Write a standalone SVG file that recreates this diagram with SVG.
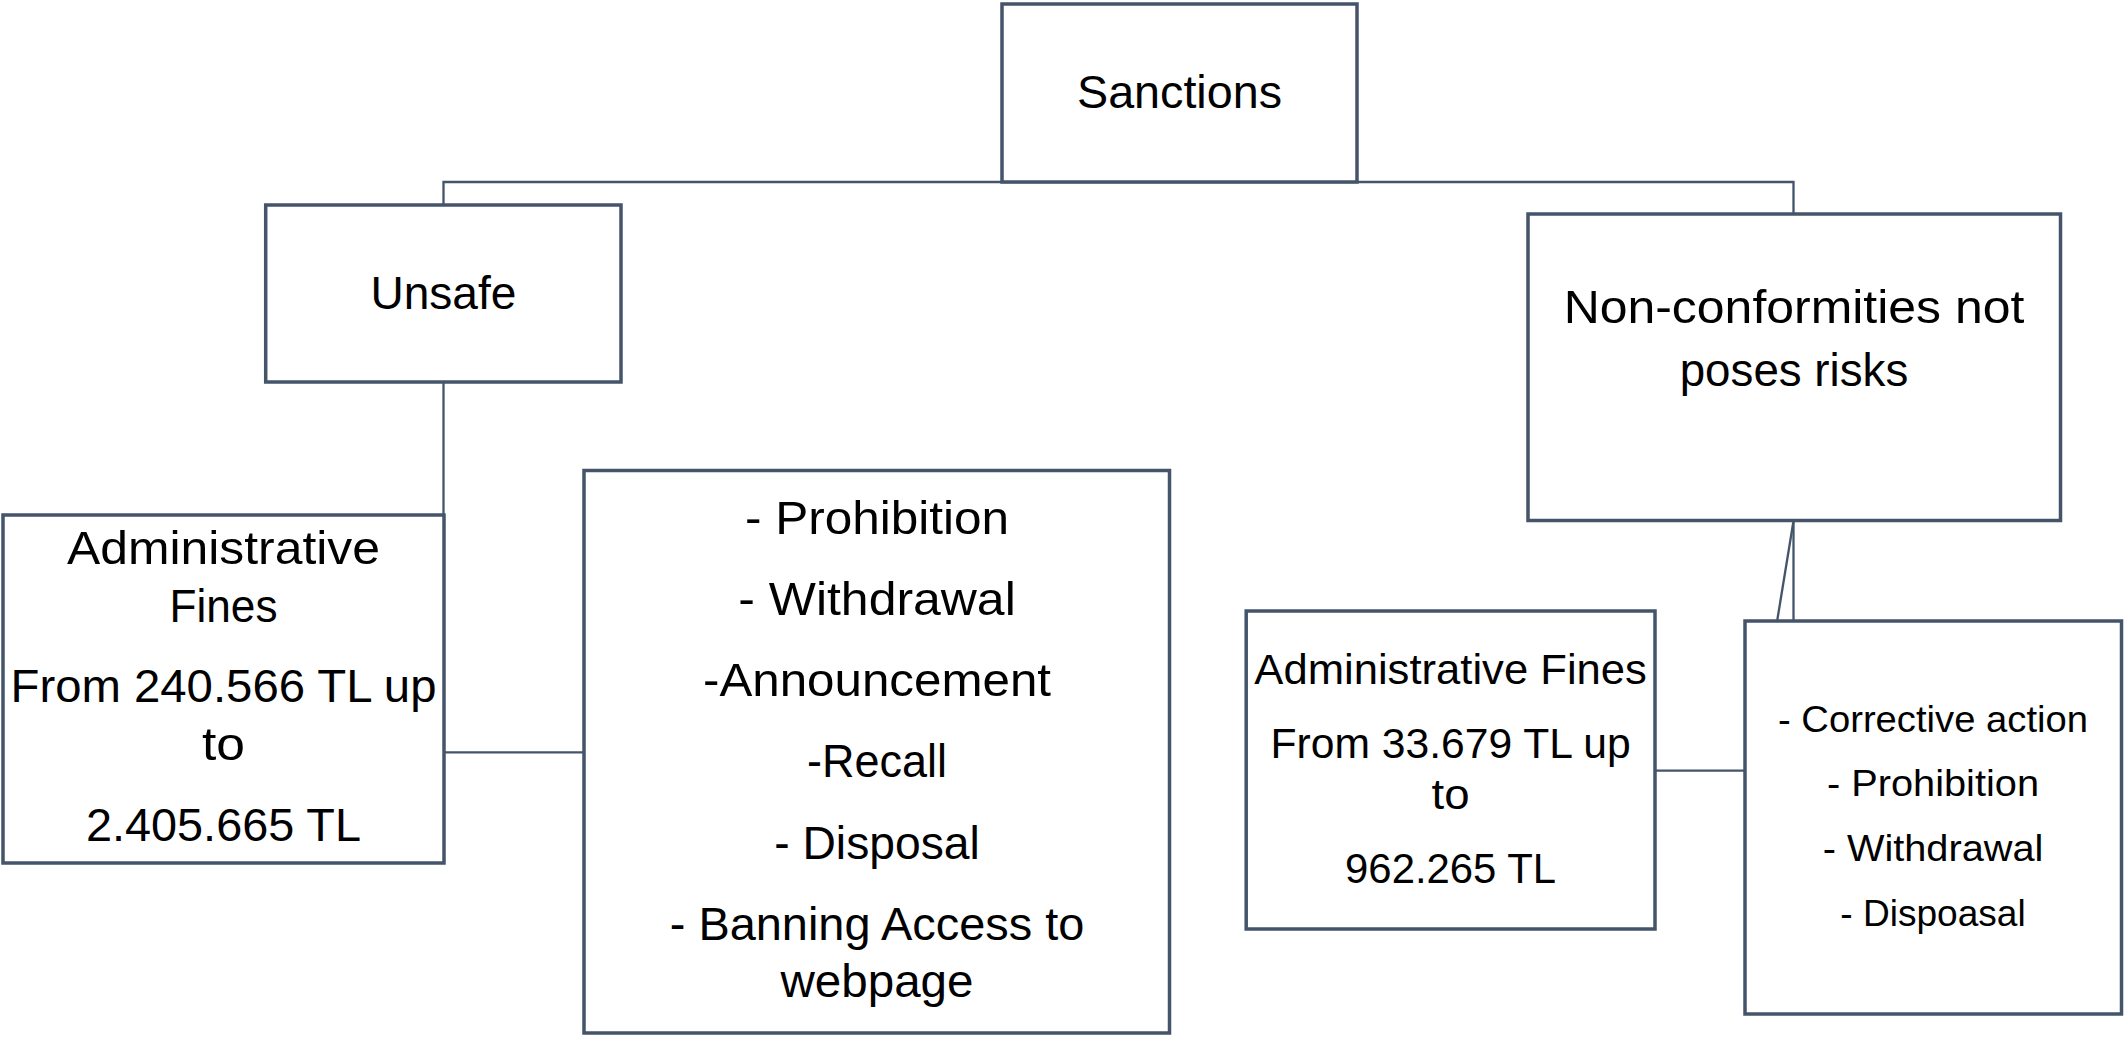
<svg xmlns="http://www.w3.org/2000/svg" width="2124" height="1038" viewBox="0 0 2124 1038">
<style>
.box{fill:#ffffff;stroke:#44546A;stroke-width:3.5}
.con{fill:none;stroke:#44546A;stroke-width:2.3}
text{font-family:"Liberation Sans",Arial,sans-serif;fill:#000000;text-anchor:middle}
.t1{font-size:47px}
.t2{font-size:43px}
.t3{font-size:37.5px}
</style>
<rect width="2124" height="1038" fill="#ffffff"/>
<g id="connectors">
<polyline class="con" points="443.5,205 443.5,182 1793.5,182 1793.5,214"/>
<line class="con" x1="443.5" y1="382" x2="443.5" y2="515"/>
<line class="con" x1="444" y1="752.3" x2="584" y2="752.3"/>
<line class="con" x1="1793.5" y1="520.5" x2="1793.5" y2="621"/>
<line class="con" x1="1793.5" y1="521" x2="1777.3" y2="620"/>
<line class="con" x1="1655" y1="770.7" x2="1745" y2="770.7"/>
</g>
<g id="sanctions">
<rect class="box" x="1002" y="4" width="355" height="178"/>
<text class="t1" x="1179.5" y="108.3" textLength="205" lengthAdjust="spacingAndGlyphs">Sanctions</text>
</g>
<g id="unsafe">
<rect class="box" x="265.7" y="205" width="355.3" height="177"/>
<text class="t1" x="443.4" y="309" textLength="146" lengthAdjust="spacingAndGlyphs">Unsafe</text>
</g>
<g id="admin-fines-unsafe">
<rect class="box" x="3" y="515" width="441" height="348"/>
<text class="t1" x="223.5" y="564" textLength="313" lengthAdjust="spacingAndGlyphs">Administrative</text>
<text class="t1" x="223.5" y="622" textLength="108" lengthAdjust="spacingAndGlyphs">Fines</text>
<text class="t1" x="223.5" y="702" textLength="426" lengthAdjust="spacingAndGlyphs">From 240.566 TL up</text>
<text class="t1" x="223.5" y="760" textLength="43" lengthAdjust="spacingAndGlyphs">to</text>
<text class="t1" x="223.5" y="841" textLength="275" lengthAdjust="spacingAndGlyphs">2.405.665 TL</text>
</g>
<g id="measures-unsafe">
<rect class="box" x="584" y="470.5" width="585.5" height="562.5"/>
<text class="t1" x="877" y="533.7" textLength="264" lengthAdjust="spacingAndGlyphs">- Prohibition</text>
<text class="t1" x="877" y="615" textLength="277.5" lengthAdjust="spacingAndGlyphs">- Withdrawal</text>
<text class="t1" x="877" y="696" textLength="348" lengthAdjust="spacingAndGlyphs">-Announcement</text>
<text class="t1" x="877" y="777.3" textLength="140" lengthAdjust="spacingAndGlyphs">-Recall</text>
<text class="t1" x="877" y="858.5" textLength="205.5" lengthAdjust="spacingAndGlyphs">- Disposal</text>
<text class="t1" x="877" y="939.7" textLength="414.5" lengthAdjust="spacingAndGlyphs">- Banning Access to</text>
<text class="t1" x="877" y="997" textLength="193" lengthAdjust="spacingAndGlyphs">webpage</text>
</g>
<g id="non-conformities">
<rect class="box" x="1528" y="214" width="532.5" height="306.5"/>
<text class="t1" x="1794" y="323" textLength="460.7" lengthAdjust="spacingAndGlyphs">Non-conformities not</text>
<text class="t1" x="1794" y="386" textLength="228.6" lengthAdjust="spacingAndGlyphs">poses risks</text>
</g>
<g id="admin-fines-nc">
<rect class="box" x="1246.2" y="611" width="408.8" height="318"/>
<text class="t2" x="1450.6" y="683.5" textLength="392.6" lengthAdjust="spacingAndGlyphs">Administrative Fines</text>
<text class="t2" x="1450.6" y="757.5" textLength="360" lengthAdjust="spacingAndGlyphs">From 33.679 TL up</text>
<text class="t2" x="1450.6" y="809" textLength="38" lengthAdjust="spacingAndGlyphs">to</text>
<text class="t2" x="1450.6" y="882.5" textLength="211" lengthAdjust="spacingAndGlyphs">962.265 TL</text>
</g>
<g id="measures-nc">
<rect class="box" x="1745" y="621" width="376.5" height="393"/>
<text class="t3" x="1933" y="731.7" textLength="310" lengthAdjust="spacingAndGlyphs">- Corrective action</text>
<text class="t3" x="1933" y="796" textLength="212" lengthAdjust="spacingAndGlyphs">- Prohibition</text>
<text class="t3" x="1933" y="860.5" textLength="220.7" lengthAdjust="spacingAndGlyphs">- Withdrawal</text>
<text class="t3" x="1933" y="925.5" textLength="185.3" lengthAdjust="spacingAndGlyphs">- Dispoasal</text>
</g>
</svg>
